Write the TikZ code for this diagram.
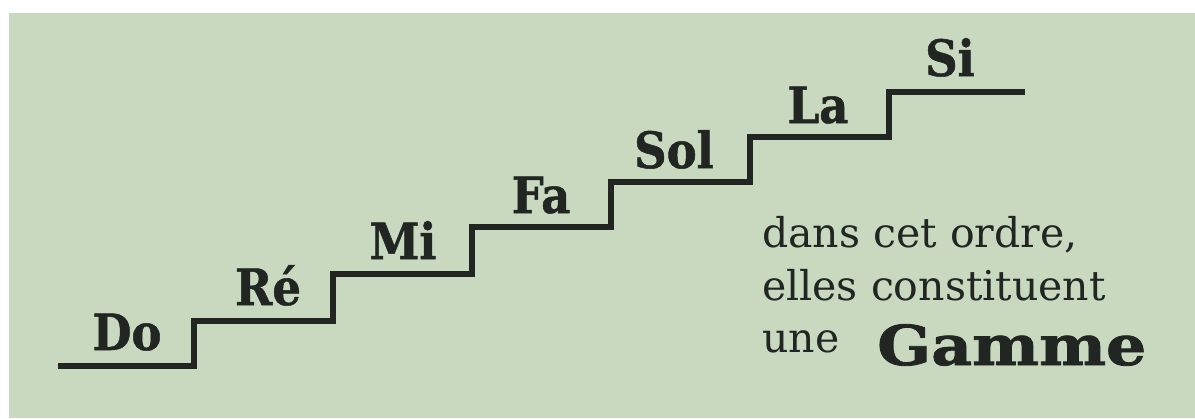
\documentclass[tikz,border=0pt]{standalone}
\usepackage{fontspec}
\setmainfont{DejaVu Serif}
\newfontfamily\labfont[FakeStretch=0.9,FakeBold=1]{DejaVu Serif Bold}
\newfontfamily\gamfont[FakeStretch=1.15,FakeBold=1.5]{DejaVu Serif Bold}
\newfontfamily\bodyfont{DejaVu Serif}
\definecolor{bggreen}{RGB}{200,217,192}
\definecolor{ink}{RGB}{34,38,34}
\begin{document}
\begin{tikzpicture}[x=1pt,y=-1pt,
  notelab/.style={anchor=base,inner sep=0pt,text=ink,font=\labfont\fontsize{50}{50}\selectfont},
  bodytxt/.style={anchor=base west,inner sep=0pt,text=ink,font=\bodyfont\fontsize{41}{41}\selectfont},
  stair/.style={draw=ink,line width=5.5pt,line join=miter}]
\useasboundingbox (0,0) rectangle (1195,418);
\fill[white] (0,0) rectangle (1195,418);
\fill[bggreen] (9,13) rectangle (1195,418);
\coordinate (s0) at (58,366);
\coordinate (s1) at (194,366);
\coordinate (s2) at (194,321);
\coordinate (s3) at (333,321);
\coordinate (s4) at (333,274);
\coordinate (s5) at (472,274);
\coordinate (s6) at (472,227);
\coordinate (s7) at (611,227);
\coordinate (s8) at (611,182);
\coordinate (s9) at (750,182);
\coordinate (s10) at (750,137);
\coordinate (s11) at (889,137);
\coordinate (s12) at (889,92);
\coordinate (s13) at (1025,92);
\draw[stair] (s0) -- (s1) -- (s2) -- (s3) -- (s4) -- (s5) -- (s6) -- (s7) -- (s8) -- (s9) -- (s10) -- (s11) -- (s12) -- (s13);
\node[notelab] (do) at (127,350) {Do};
\node[notelab] (re) at (268,305) {Ré};
\node[notelab] (mi) at (403,259) {Mi};
\node[notelab] (fa) at (541,213) {Fa};
\node[notelab] (sol) at (674,168) {Sol};
\node[notelab] (la) at (818,123) {La};
\node[notelab] (si) at (950,76) {Si};
\node[bodytxt] (t1) at (762,247) {dans cet ordre,};
\node[bodytxt] (t2) at (762,300) {elles constituent};
\node[bodytxt] (t3) at (762,352) {une};
\node[anchor=base west,inner sep=0pt,text=ink,font=\gamfont\fontsize{55}{55}\selectfont] (gamme) at (877,365) {Gamme};
\end{tikzpicture}
\end{document}
